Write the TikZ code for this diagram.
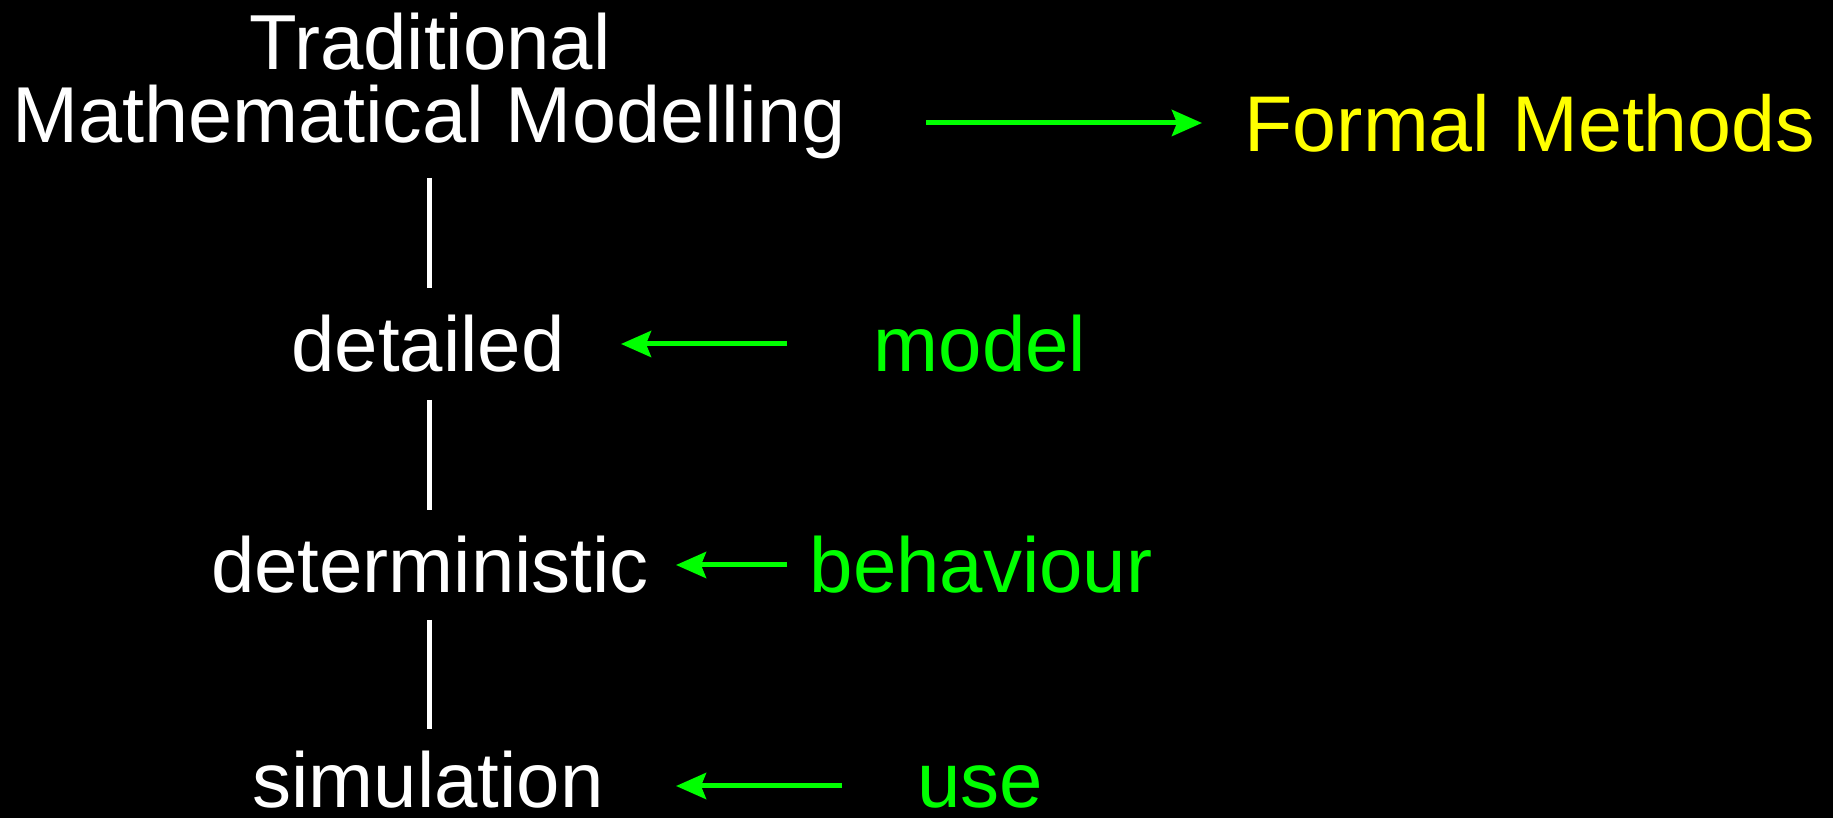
\documentclass[tikz,border=0pt]{standalone}
\usepackage{fontspec}
\setmainfont{Liberation Sans}
\usetikzlibrary{arrows.meta}
\definecolor{lime}{HTML}{00FF00}
\definecolor{gold}{HTML}{FFFF00}
\begin{document}
\begin{tikzpicture}[x=1pt,y=1pt,
  lbl/.style={anchor=base, inner sep=0pt, font=\fontsize{78}{90}\selectfont},
  term/.style={lbl, text=white},
  note/.style={lbl, text=lime},
  link/.style={draw=white, line width=5pt},
  arr/.style={draw=lime, line width=5pt, -{Stealth[length=30pt,width=26pt,inset=5pt]}}]
  \fill[black] (0,0) rectangle (1833,818);
  \useasboundingbox (0,0) rectangle (1833,818);

  % left column of terms
  \node[term] (trad) at (430,748) {Traditional};
  \node[term, font=\fontsize{79.3}{90}\selectfont] (tmm) at (429,675) {Mathematical Modelling};
  \node[term] (det)  at (428,446) {detailed};
  \node[term] (deter) at (430,225) {deterministic};
  \node[term] (sim)  at (428,10) {simulation};

  % right column of notes
  \node[lbl, text=gold, font=\fontsize{79}{90}\selectfont] (fm) at (1530,666) {Formal Methods};
  \node[note] (model) at (980,446) {model};
  \node[note] (beh)   at (981,225) {behaviour};
  \node[note] (use)   at (980,10) {use};

  % vertical links between terms
  \coordinate (v1a) at (429,640); \coordinate (v1b) at (429,530);
  \coordinate (v2a) at (429,418); \coordinate (v2b) at (429,308);
  \coordinate (v3a) at (429,198); \coordinate (v3b) at (429,89);
  \draw[link] (v1a) -- (v1b);
  \draw[link] (v2a) -- (v2b);
  \draw[link] (v3a) -- (v3b);

  % arrows
  \coordinate (a1s) at (926,695); \coordinate (a1e) at (1202,695);
  \coordinate (a2s) at (787,474); \coordinate (a2e) at (621,474);
  \coordinate (a3s) at (787,253); \coordinate (a3e) at (676,253);
  \coordinate (a4s) at (842,32);  \coordinate (a4e) at (676,32);
  \draw[arr] (a1s) -- (a1e);
  \draw[arr] (a2s) -- (a2e);
  \draw[arr] (a3s) -- (a3e);
  \draw[arr] (a4s) -- (a4e);
\end{tikzpicture}
\end{document}
